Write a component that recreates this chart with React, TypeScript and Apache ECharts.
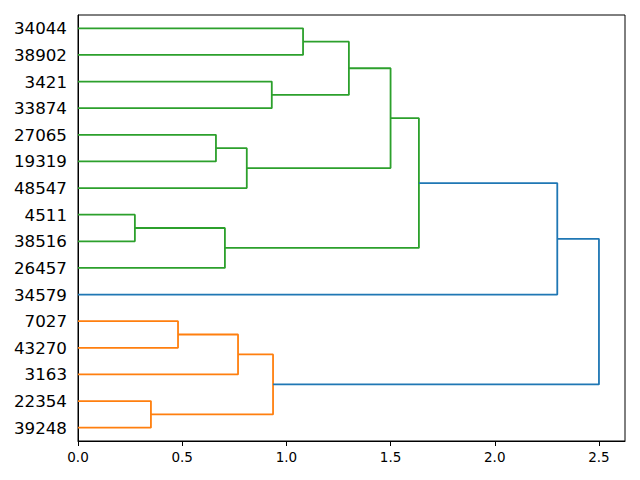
import React, { useEffect, useRef } from "react";
import * as echarts from "echarts";

// Leaves, bottom to top (scipy leaf order)
const leaves = ["39248", "22354", "3163", "43270", "7027", "34579", "26457", "38516", "4511", "48547", "19319", "27065", "33874", "3421", "38902", "34044"];
// Merges: child indices (0..15 leaves, 16+k = merge k), height, colour
const mergeLeft = [15, 13, 16, 11, 19, 18, 8, 22, 21, 24, 4, 26, 1, 27, 25];
const mergeRight = [14, 12, 17, 10, 9, 20, 7, 6, 23, 5, 3, 2, 0, 28, 29];
const mergeHeight = [1.08, 0.93, 1.30, 0.662, 0.81, 1.50, 0.273, 0.705, 1.636, 2.30, 0.48, 0.768, 0.35, 0.936, 2.50];
const mergeColor = ["#2ca02c", "#2ca02c", "#2ca02c", "#2ca02c", "#2ca02c", "#2ca02c", "#2ca02c", "#2ca02c", "#2ca02c", "#1f77b4", "#ff7f0e", "#ff7f0e", "#ff7f0e", "#ff7f0e", "#1f77b4"];
const xTicks = [0, 0.5, 1.0, 1.5, 2.0, 2.5];

export default function App() {
  const ref = useRef<HTMLDivElement>(null);
  useEffect(() => {
    if (!ref.current) return;
    const chart = echarts.init(ref.current, null, { renderer: "svg" });
    const n = leaves.length;
    const pos: number[] = [];
    const hgt: number[] = [];
    for (let i = 0; i < n; i++) {
      pos.push(5 + 10 * i);
      hgt.push(0);
    }
    const series: any[] = [];
    for (let k = 0; k < mergeLeft.length; k++) {
      const a = mergeLeft[k];
      const b = mergeRight[k];
      const h = mergeHeight[k];
      series.push({
        type: "line",
        xAxisIndex: 0,
        yAxisIndex: 0,
        symbol: "none",
        silent: true,
        lineStyle: { color: mergeColor[k], width: 1.8 },
        data: [
          [hgt[a], pos[a]],
          [h, pos[a]],
          [h, pos[b]],
          [hgt[b], pos[b]],
        ],
      });
      pos.push((pos[a] + pos[b]) / 2);
      hgt.push(h);
    }
    chart.setOption({
      animation: false,
      grid: { left: 78, right: 15, top: 15, bottom: 39, show: true, borderColor: "#000", borderWidth: 1, backgroundColor: "transparent" },
      xAxis: {
        type: "value",
        min: 0,
        max: 2.625,
        interval: 0.5,
        splitLine: { show: false },
        axisLine: { show: true, lineStyle: { color: "#000", width: 1 } },
        axisTick: { show: true, length: 5, lineStyle: { color: "#000" }, customValues: xTicks },
        axisLabel: {
          color: "#000",
          fontSize: 13.5,
          fontFamily: "DejaVu Sans",
          margin: 9,
          customValues: xTicks,
          formatter: (v: number) => v.toFixed(1),
        },
      },
      yAxis: [
        { type: "value", min: 0, max: 10 * leaves.length, show: false },
        {
          type: "category",
          data: leaves,
          boundaryGap: true,
          position: "left",
          axisLine: { show: true, lineStyle: { color: "#000", width: 1 } },
          axisTick: { show: false },
          axisLabel: { color: "#000", fontSize: 16.7, fontFamily: "DejaVu Sans", margin: 11, interval: 0 },
          splitLine: { show: false },
        },
      ],
      series,
    });
    return () => chart.dispose();
  }, []);
  return <div ref={ref} style={{ width: 640, height: 480, position: "absolute", left: 0, top: 0 }} />;
}
